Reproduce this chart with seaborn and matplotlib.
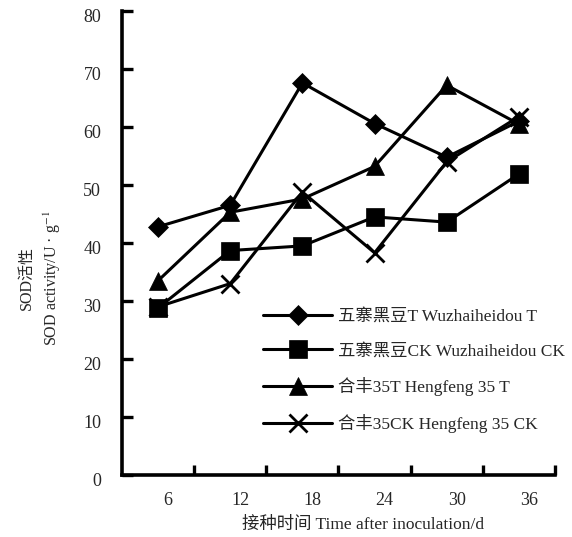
import matplotlib
matplotlib.use("Agg")
import matplotlib.pyplot as plt
import matplotlib.transforms as mtransforms
import seaborn as sns
import pandas as pd
import numpy as np

days = ["6", "12", "18", "24", "30", "36"]
wz_T = [42.8, 46.5, 67.6, 60.6, 54.8, 61.0]
wz_CK = [28.8, 38.7, 39.5, 44.5, 43.6, 51.9]
hf_T = [33.5, 45.3, 47.6, 53.2, 67.2, 60.5]
hf_CK = [29.0, 33.0, 48.8, 38.3, 54.0, 61.8]
series_names = ["五寨黑豆T Wuzhaiheidou T", "五寨黑豆CK Wuzhaiheidou CK",
                "合丰35T Hengfeng 35 T", "合丰35CK Hengfeng 35 CK"]
series_vals = [wz_T, wz_CK, hf_T, hf_CK]
yticks = [0, 10, 20, 30, 40, 50, 60, 70, 80]

sns.set_theme(style="white")
FAM = ["Liberation Serif", "Noto Sans CJK SC"]
plt.rcParams["font.family"] = FAM
plt.rcParams["mathtext.fontset"] = "stix"

rows = []
for name, vals in zip(series_names, series_vals):
    for i, v in enumerate(vals):
        rows.append({"pos": i, "day": days[i], "value": v, "series": name})
df = pd.DataFrame(rows)

fig = plt.figure(figsize=(5.72, 5.37), dpi=100)
ax = fig.add_axes([122/572, 1-475/537, (555-122)/572, (475-11)/537])

markers = {series_names[0]: "D", series_names[1]: "s",
           series_names[2]: "^", series_names[3]: "x"}
msizes = {series_names[0]: 10.5, series_names[1]: 13.5,
          series_names[2]: 13.5, series_names[3]: 13}
for name in series_names:
    sub = df[df["series"] == name]
    sns.lineplot(data=sub, x="pos", y="value", ax=ax, color="black",
                 marker=markers[name], markersize=msizes[name],
                 markeredgewidth=2.0 if markers[name] == "x" else 0.5,
                 markeredgecolor="black", markerfacecolor="black",
                 linewidth=2.2, label=name, legend=True)

ax.set_xlim(-0.5, 5.5)
ax.set_ylim(0, 80)
ax.set_xlabel("")
ax.set_ylabel("")
for s in ["top", "right"]:
    ax.spines[s].set_visible(False)
for s in ["left", "bottom"]:
    ax.spines[s].set_linewidth(2.6)
    ax.spines[s].set_color("black")

ax.set_xticks(range(len(days)))
ax.set_xticklabels(days)
ax.set_xticks(np.arange(0.5, len(days), 1.0), minor=True)
ax.tick_params(axis="x", which="major", length=0, pad=12, labelsize=13)
ax.tick_params(axis="x", which="minor", direction="in", length=7, width=2.4, color="black")
ax.set_yticks(yticks)
ax.tick_params(axis="y", which="major", direction="in", length=8, width=2.4,
               color="black", pad=15, labelsize=13)
ax.tick_params(axis="y", left=True)
ax.tick_params(axis="x", which="minor", bottom=True)

for lab in ax.get_yticklabels():
    lab.set_transform(lab.get_transform() +
                      mtransforms.ScaledTranslation(0, -5/100, fig.dpi_scale_trans))
for lab in ax.get_xticklabels():
    lab.set_transform(lab.get_transform() +
                      mtransforms.ScaledTranslation(10/100, 0, fig.dpi_scale_trans))

handles, labels = ax.get_legend_handles_labels()
leg = ax.legend(handles, labels, loc="upper left",
                bbox_to_anchor=(263/572, 1-309/537), bbox_transform=fig.transFigure,
                frameon=False, fontsize=12.5, handlelength=4.0, handletextpad=0.3,
                labelspacing=1.03, borderpad=0, borderaxespad=0)

fig.text(363/572, 1-525/537, "接种时间 Time after inoculation/d", ha="center", va="center",
         fontsize=12.5, family=FAM)
fig.text(27/572, 1-278/537, "SOD活性", rotation=90, ha="center", va="center",
         fontsize=11.5, family=FAM)
fig.text(52/572, 1-278/537, "SOD activity/U · g$^{-1}$", rotation=90, ha="center",
         va="center", fontsize=11.5, family=FAM)

fig.savefig("out.png", dpi=100)
